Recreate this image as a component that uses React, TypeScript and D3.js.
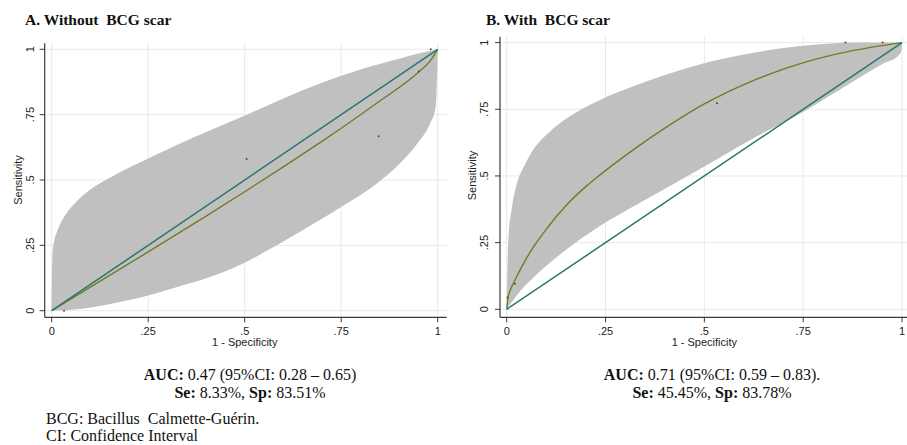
import React from "react";
import * as d3 from "d3";

type Pt = [number, number];

// ---------- data ----------
const axisTicks = [0, 0.25, 0.5, 0.75, 1];
const axisTickLabels = ["0", ".25", ".5", ".75", "1"];

const diagonal: Pt[] = [[0, 0], [1, 1]];

// Panel A: without BCG scar
const fitA: Pt[] = [
  [0, 0], [0.05, 0.045], [0.1, 0.09], [0.25, 0.225], [0.4, 0.362], [0.5, 0.455],
  [0.6, 0.55], [0.7, 0.648], [0.75, 0.698], [0.85, 0.802], [0.95, 0.912], [0.98, 0.955], [1, 1],
];
const bandUpperA: Pt[] = [
  [0, 0], [0.002, 0.217], [0.007, 0.27], [0.015, 0.307], [0.032, 0.358], [0.067, 0.422],
  [0.109, 0.473], [0.152, 0.51], [0.25, 0.582], [0.323, 0.633], [0.408, 0.688],
  [0.493, 0.742], [0.6, 0.812], [0.7, 0.872], [0.8, 0.923], [0.9, 0.964], [0.95, 0.984], [1, 1],
];
const bandLowerA: Pt[] = [
  [0.995, 0.78], [0.98, 0.715], [0.95, 0.645], [0.9, 0.56], [0.85, 0.495], [0.75, 0.397],
  [0.7, 0.352], [0.6, 0.265], [0.493, 0.179], [0.408, 0.128], [0.323, 0.09],
  [0.25, 0.058], [0.152, 0.026], [0.067, 0.006], [0, 0],
];
const pointsA: Pt[] = [[0.032, 0], [0.505, 0.58], [0.847, 0.667], [0.951, 0.915], [0.982, 1]];

// Panel B: with BCG scar
const fitB: Pt[] = [
  [0, 0], [0.003, 0.04], [0.01, 0.075], [0.021, 0.11], [0.04, 0.165], [0.067, 0.232],
  [0.1, 0.3], [0.152, 0.392], [0.2, 0.46], [0.236, 0.504], [0.32, 0.598], [0.404, 0.683],
  [0.5, 0.77], [0.616, 0.853], [0.751, 0.925], [0.869, 0.968], [1, 1],
];
const bandUpperB: Pt[] = [
  [0, 0], [0.002, 0.156], [0.004, 0.255], [0.013, 0.38], [0.025, 0.467], [0.046, 0.542],
  [0.067, 0.598], [0.109, 0.666], [0.152, 0.716], [0.236, 0.785], [0.32, 0.836],
  [0.404, 0.88], [0.488, 0.918], [0.6, 0.955], [0.7, 0.98], [0.8, 0.995], [0.9, 1.0], [1, 1],
];
const bandLowerB: Pt[] = [
  [0.999, 0.97], [0.99, 0.95], [0.954, 0.9225], [0.869, 0.8475], [0.751, 0.741],
  [0.616, 0.635], [0.5, 0.535], [0.404, 0.455], [0.32, 0.385], [0.236, 0.312],
  [0.152, 0.225], [0.067, 0.118], [0.034, 0.068], [0, 0],
];
const pointsB: Pt[] = [[0.002, 0.044], [0.021, 0.096], [0.532, 0.7725], [0.857, 1], [0.951, 1]];

const panelTitles = ["A. Without  BCG scar", "B. With  BCG scar"];
const aucTexts = [" 0.47 (95%CI: 0.28 \u2013 0.65)", " 0.71 (95%CI: 0.59 \u2013 0.83)."];
const seTexts = [" 8.33%, ", " 45.45%, "];
const spTexts = [" 83.51%", " 83.78%"];
const footnotes = ["BCG: Bacillus  Calmette-Gu\u00e9rin.", "CI: Confidence Interval"];

// ---------- styles ----------
const SANS = "'Liberation Sans', Arial, sans-serif";
const SERIF = "'Liberation Serif', 'Times New Roman', serif";
const BAND = "#c0c0c0";
const TEAL = "#27766d";
const OLIVE = "#6f7d24";
const DOT = "#8c2f2f";
const GRID = "#e9e9e9";
const AXIS = "#3a3a3a";

interface Layout {
  x0: number; x1: number; y0: number; y1: number;
  left: number; right: number; top: number; bottom: number;
  yTickX: number; yLabelX: number; yLabelY: number;
  titleX: number; textCx: number;
}

const layouts: Layout[] = [
  { x0: 51.7, x1: 437.7, y0: 310.7, y1: 49.3, left: 44.7, right: 446.7, top: 43.3, bottom: 317.3,
    yTickX: 33.5, yLabelX: 21.5, yLabelY: 180, titleX: 25, textCx: 250 },
  { x0: 506.7, x1: 902, y0: 309.3, y1: 42.6, left: 500, right: 911, top: 36.7, bottom: 317.3,
    yTickX: 487.5, yLabelX: 475.5, yLabelY: 175.5, titleX: 486, textCx: 712 },
];

interface PanelData { fit: Pt[]; upper: Pt[]; lower: Pt[]; points: Pt[]; }
const panelData: PanelData[] = [
  { fit: fitA, upper: bandUpperA, lower: bandLowerA, points: pointsA },
  { fit: fitB, upper: bandUpperB, lower: bandLowerB, points: pointsB },
];

function Panel({ idx }: { idx: number }) {
  const L = layouts[idx];
  const D = panelData[idx];
  const x = d3.scaleLinear().domain([0, 1]).range([L.x0, L.x1]);
  const y = d3.scaleLinear().domain([0, 1]).range([L.y0, L.y1]);
  const mono = d3.line<Pt>().x((d) => x(d[0])).y((d) => y(d[1])).curve(d3.curveMonotoneX);
  const straight = d3.line<Pt>().x((d) => x(d[0])).y((d) => y(d[1]));
  const upperPath = mono(D.upper) || "";
  const lastUpper = D.upper[D.upper.length - 1];
  const lowerPath = (mono([lastUpper, ...D.lower]) || "").replace(/^M/, "L");
  const bandPath = upperPath + lowerPath + "Z";

  return (
    <g>
      <text x={L.titleX} y={25} fontFamily={SERIF} fontWeight="bold" fontSize={15.5}
        style={{ whiteSpace: "pre" }} fill="#111">{panelTitles[idx]}</text>

      {/* grid */}
      {axisTicks.map((t) => (
        <line key={"gx" + t} x1={x(t)} x2={x(t)} y1={L.top} y2={L.bottom} stroke={GRID} strokeWidth={1} />
      ))}
      {axisTicks.map((t) => (
        <line key={"gy" + t} x1={L.left} x2={L.right} y1={y(t)} y2={y(t)} stroke={GRID} strokeWidth={1} />
      ))}

      {/* CI band */}
      <path d={bandPath} fill={BAND} stroke="none" />

      {/* fitted curve and reference */}
      <path d={mono(D.fit) || ""} fill="none" stroke={OLIVE} strokeWidth={1.4} />
      <path d={straight(diagonal) || ""} fill="none" stroke={TEAL} strokeWidth={1.5} />

      {D.points.map((p, i) => (
        <circle key={"p" + i} cx={x(p[0])} cy={y(p[1])} r={1} fill={DOT} />
      ))}

      {/* axes */}
      <line x1={L.left} x2={L.left} y1={L.top} y2={L.bottom} stroke={AXIS} strokeWidth={1.2} />
      <line x1={L.left} x2={L.right} y1={L.bottom} y2={L.bottom} stroke={AXIS} strokeWidth={1.2} />
      {axisTicks.map((t) => (
        <line key={"ty" + t} x1={L.left - 5} x2={L.left} y1={y(t)} y2={y(t)} stroke={AXIS} strokeWidth={1} />
      ))}
      {axisTicks.map((t) => (
        <line key={"tx" + t} x1={x(t)} x2={x(t)} y1={L.bottom} y2={L.bottom + 5} stroke={AXIS} strokeWidth={1} />
      ))}
      {axisTicks.map((t, i) => (
        <text key={"ly" + t} transform={`translate(${L.yTickX},${y(t)}) rotate(-90)`} textAnchor="middle"
          fontFamily={SANS} fontSize={11} fill="#222">{axisTickLabels[i]}</text>
      ))}
      {axisTicks.map((t, i) => (
        <text key={"lx" + t} x={x(t)} y={335} textAnchor="middle" fontFamily={SANS} fontSize={11} fill="#222">
          {axisTickLabels[i]}
        </text>
      ))}
      <text transform={`translate(${L.yLabelX},${L.yLabelY}) rotate(-90)`} textAnchor="middle"
        fontFamily={SANS} fontSize={11} fill="#222">Sensitivity</text>
      <text x={(L.x0 + L.x1) / 2} y={345.5} textAnchor="middle" fontFamily={SANS} fontSize={11} fill="#222">
        1 - Specificity
      </text>

      {/* summary */}
      <text x={L.textCx} y={380} textAnchor="middle" fontFamily={SERIF} fontSize={16} fill="#111"
        style={{ whiteSpace: "pre" }}>
        <tspan fontWeight="bold">AUC:</tspan>{aucTexts[idx]}
      </text>
      <text x={L.textCx} y={398} textAnchor="middle" fontFamily={SERIF} fontSize={16} fill="#111"
        style={{ whiteSpace: "pre" }}>
        <tspan fontWeight="bold">Se:</tspan>{seTexts[idx]}<tspan fontWeight="bold">Sp:</tspan>{spTexts[idx]}
      </text>
    </g>
  );
}

export default function App() {
  return (
    <svg width={907} height={445} viewBox="0 0 907 445"
      style={{ position: "absolute", left: 0, top: 0, display: "block", background: "#fff" }}>
      <rect x={0} y={0} width={907} height={445} fill="#fff" />
      <Panel idx={0} />
      <Panel idx={1} />
      {footnotes.map((f, i) => (
        <text key={f} x={46} y={424 + i * 17} fontFamily={SERIF} fontSize={16} fill="#111"
          style={{ whiteSpace: "pre" }}>{f}</text>
      ))}
    </svg>
  );
}
